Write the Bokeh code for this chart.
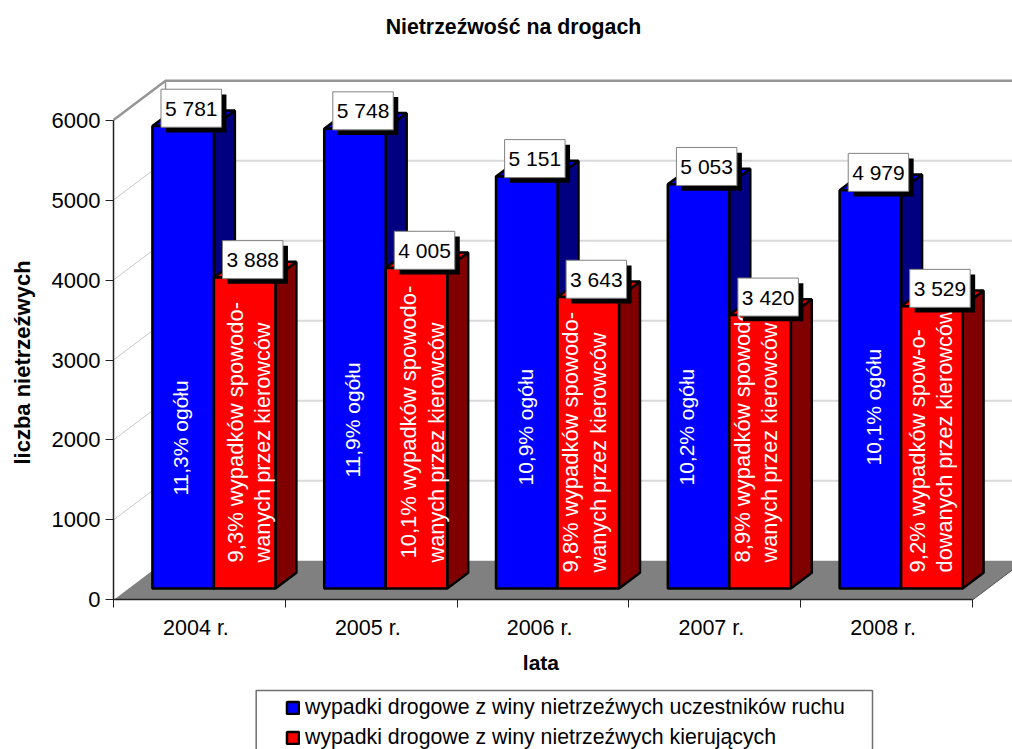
from bokeh.plotting import figure
from bokeh.embed import file_html
from bokeh.resources import INLINE
from bokeh.models import ColumnDataSource, FixedTicker, LinearAxis, Legend, LegendItem, Range1d
from bokeh.core.properties import value

years = ["2004 r.", "2005 r.", "2006 r.", "2007 r.", "2008 r."]
drivers_all = [5781, 5748, 5151, 5053, 4979]
drivers_guilty = [3888, 4005, 3643, 3420, 3529]
all_labels = ["5 781", "5 748", "5 151", "5 053", "4 979"]
guilty_labels = ["3 888", "4 005", "3 643", "3 420", "3 529"]
share_all = ["11,3% ogółu", "11,9% ogółu", "10,9% ogółu", "10,2% ogółu", "10,1% ogółu"]
share_line1 = ["9,3% wypadków spowodo-", "10,1% wypadków spowodo-", "9,8% wypadków spowodo-",
               "8,9% wypadków spowodo-", "9,2% wypadków spow-o-"]
share_line2 = ["wanych przez kierowców", "wanych przez kierowców", "wanych przez kierowców",
               "wanych przez kierowców", "dowanych przez kierowców"]
y_ticks = [0, 1000, 2000, 3000, 4000, 5000, 6000]

FONT = "Liberation Sans"
BLUE, DBLUE, RED, DRED = "#0000ff", "#000080", "#ff0000", "#800000"

# projection of the pseudo-3D scene, in axis units
WALL_DX, WALL_DY = 0.303, 490      # depth of the whole floor
BAR_DX, BAR_DY = 0.122, 195        # depth of one bar
LIFT = 144                          # front of the bars above the floor's front edge
GROUP_START, BAR_W = 0.2265, 0.358
N = len(years)

W, H = 1012, 749
p = figure(width=W, height=H, output_backend="svg", toolbar_location=None,
           x_range=Range1d(-0.6577, 5.2328), y_range=Range1d(-1869, 7494),
           x_axis_type=None, y_axis_type=None,
           min_border=0, background_fill_color="white",
           border_fill_color="white", outline_line_color=None)
p.xgrid.visible = False
p.ygrid.visible = False


def note(x, y, text, size, style="normal", angle=0.0, align="center", baseline="middle", color="black"):
    return p.text([x], [y], [text], angle=angle, text_align=align, text_baseline=baseline,
                  text_color=color, text_font=value(FONT), text_font_style=style, text_font_size=size)


note(2.328, 7157, "Nietrzeźwość na drogach", "21.3px", "bold")
note(2.488, -781, "lata", "21px", "bold")
note(-0.53, 2969, "liczba nietrzeźwych", "22px", "bold", angle=1.5708)

# floor
p.patch([0, 5, 5 + WALL_DX, WALL_DX], [0, 0, WALL_DY, WALL_DY],
        fill_color="#808080", line_color=None)
p.line([5, 5 + WALL_DX], [0, WALL_DY], line_color="#555555", line_width=1)

# walls and gridlines
grid_vals = [v for v in y_ticks if 0 < v < 6000]
p.multi_line([[0, WALL_DX] for _ in grid_vals], [[v, v + WALL_DY] for v in grid_vals],
             line_color="#c8c8c8", line_width=1)
p.multi_line([[WALL_DX, 5 + WALL_DX] for _ in grid_vals], [[v + WALL_DY] * 2 for v in grid_vals],
             line_color="#d9d9d9", line_width=2)
p.line([0, WALL_DX, 5 + WALL_DX], [6000, 6000 + WALL_DY, 6000 + WALL_DY],
       line_color="#969696", line_width=2.5)
p.line([WALL_DX, WALL_DX], [6000 + WALL_DY, WALL_DY], line_color="#969696", line_width=1.5)


def bars(values, start, front, dark):
    xl = [i + start for i in range(N)]
    xr = [x + BAR_W for x in xl]
    tops = [v + LIFT for v in values]
    side_x = [[x, x + BAR_DX, x + BAR_DX, x] for x in xr]
    side_y = [[LIFT, LIFT + BAR_DY, t + BAR_DY, t] for t in tops]
    top_x = [[a, a + BAR_DX, b + BAR_DX, b] for a, b in zip(xl, xr)]
    top_y = [[t, t + BAR_DY, t + BAR_DY, t] for t in tops]
    p.patches(side_x, side_y, fill_color=dark, line_color="black", line_width=2.5)
    p.patches(top_x, top_y, fill_color=front, line_color="black", line_width=2.5)
    return p.quad(left=xl, right=xr, bottom=[LIFT] * N, top=tops, fill_color=front,
                  line_color="black", line_width=2.5)


r_all = bars(drivers_all, GROUP_START, BLUE, DBLUE)
r_guilty = bars(drivers_guilty, GROUP_START + BAR_W, RED, DRED)

# rotated notes inside the bars: baseline offset from the group's start, start height
TEXT_SHIFT = -0.05
blue_x = [0.215, 0.215, 0.221, 0.157, 0.245]
blue_y = [1306, 1531, 1431, 1431, 1681]
red1_x = [0.175, 0.180, 0.128, 0.128, 0.145]
red2_x = [0.332, 0.343, 0.291, 0.285, 0.303]
red1_y = [470, 519, 344, 470, 345]
red2_y = [470, 470, 344, 470, 345]


def rotated(xs, ys, texts, start, size):
    src = ColumnDataSource(dict(x=[i + start + d + TEXT_SHIFT for i, d in enumerate(xs)], y=ys, t=texts))
    p.text("x", "y", "t", source=src, angle=1.5708, text_align="left", text_baseline="alphabetic",
           text_color="white", text_font=value(FONT), text_font_size=size)


rotated(blue_x, blue_y, share_all, GROUP_START, "21px")
rotated(red1_x, red1_y, share_line1, GROUP_START + BAR_W, "22px")
rotated(red2_x, red2_y, share_line2, GROUP_START + BAR_W, "21.7px")

# value boxes with hard shadow
BOX_OFF, BOX_W, BOX_H = 0.05, 0.352, 475
SH_X, SH_Y = 0.029, 65


def boxes(values, labels, start):
    xl = [i + start + BOX_OFF for i in range(N)]
    bot = [v + LIFT - 15 for v in values]
    p.quad(left=[x + SH_X for x in xl], right=[x + SH_X + BOX_W for x in xl],
           bottom=[b - SH_Y for b in bot], top=[b + BOX_H - SH_Y for b in bot],
           fill_color="black", line_color=None)
    p.quad(left=xl, right=[x + BOX_W for x in xl], bottom=bot, top=[b + BOX_H for b in bot],
           fill_color="white", line_color="#808080", line_width=1)
    src = ColumnDataSource(dict(x=[x + BOX_W / 2 for x in xl], y=[b + BOX_H / 2 for b in bot], t=labels))
    p.text("x", "y", "t", source=src, text_align="center", text_baseline="middle", text_color="black",
           text_font=value(FONT), text_font_size="21px")


boxes(drivers_all, all_labels, GROUP_START)
boxes(drivers_guilty, guilty_labels, GROUP_START + BAR_W)

# axes
yax = LinearAxis(ticker=FixedTicker(ticks=y_ticks), bounds=(0, 6000), fixed_location=0)
yax.axis_line_color = "#222222"
yax.axis_line_width = 1.5
yax.major_tick_line_color = "#222222"
yax.major_tick_out = 8
yax.major_tick_in = 0
yax.minor_tick_line_color = None
yax.major_label_text_font = FONT
yax.major_label_text_font_size = "22px"
yax.major_label_text_color = "black"
yax.major_label_standoff = 5
p.add_layout(yax, "left")

label_pos = [i + 0.48 for i in range(N)]
xax = LinearAxis(ticker=FixedTicker(ticks=label_pos, minor_ticks=list(range(N + 1))), bounds=(0, 5),
                 fixed_location=0)
xax.major_label_overrides = {pos: yr for pos, yr in zip(label_pos, years)}
xax.axis_line_color = "#222222"
xax.axis_line_width = 1.5
xax.major_tick_line_color = None
xax.major_tick_in = 0
xax.major_tick_out = 8
xax.minor_tick_line_color = "#222222"
xax.minor_tick_out = 8
xax.minor_tick_in = 0
xax.major_label_text_font = FONT
xax.major_label_text_font_size = "21.5px"
xax.major_label_text_color = "black"
xax.major_label_standoff = 8
p.add_layout(xax, "below")

# legend box, then the legend itself
p.quad(left=[0.8306], right=[4.4179], top=[-1131], bottom=[-2000], fill_color="white",
       line_color="#707070", line_width=1.5)
legend = Legend(items=[LegendItem(label="wypadki drogowe z winy nietrzeźwych uczestników ruchu", renderers=[r_all]),
                       LegendItem(label="wypadki drogowe z winy nietrzeźwych kierujących", renderers=[r_guilty])],
                location=(285, -1), orientation="vertical", padding=0, margin=0, spacing=5,
                glyph_width=15, glyph_height=15, label_height=15, label_standoff=5,
                label_text_font=FONT, label_text_font_size="21.3px", label_text_color="black",
                background_fill_alpha=0, border_line_color=None, click_policy="none")
p.add_layout(legend)

open("out.html", "w").write(file_html(p, INLINE))
